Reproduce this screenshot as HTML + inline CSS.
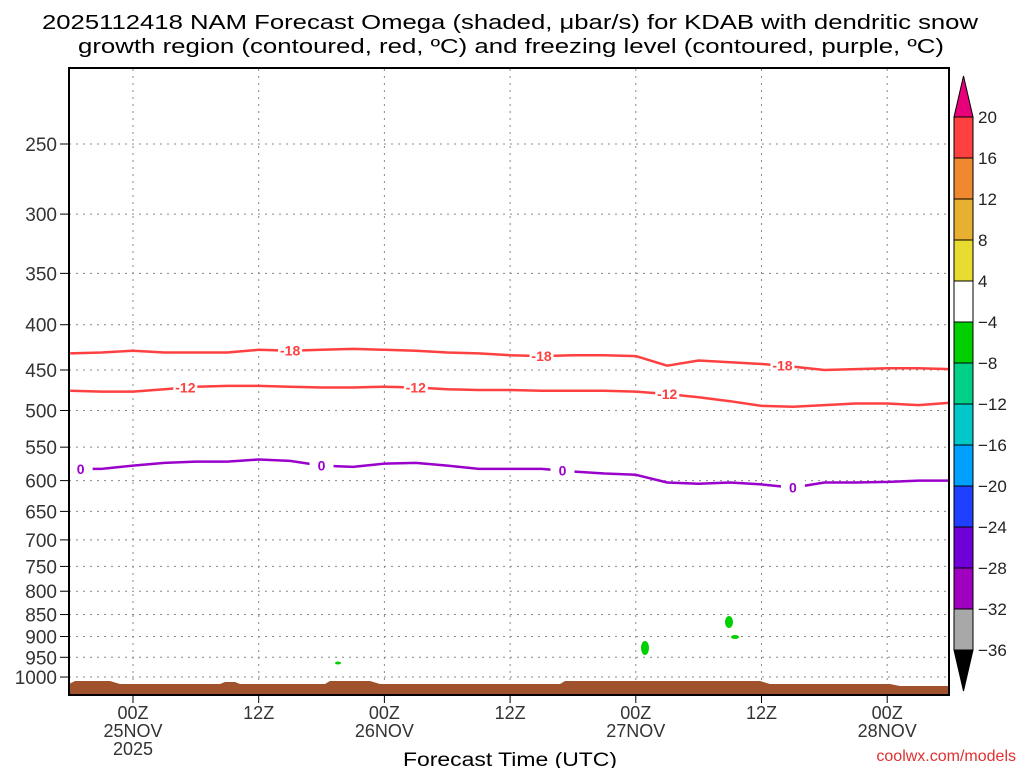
<!DOCTYPE html>
<html><head><meta charset="utf-8"><style>
body{margin:0;background:#fff;}
svg{display:block;font-family:"Liberation Sans",sans-serif;}
</style></head><body>
<svg id="chart" width="1024" height="768">
<text x="510" y="29" font-size="20" text-anchor="middle" textLength="936" lengthAdjust="spacingAndGlyphs">2025112418 NAM Forecast Omega (shaded, μbar/s) for KDAB with dendritic snow</text>
<text x="511" y="53" font-size="20" text-anchor="middle" textLength="866" lengthAdjust="spacingAndGlyphs">growth region (contoured, red, ºC) and freezing level (contoured, purple, ºC)</text>
<g id="grid"></g>
<g id="terrain"></g>
<g id="series"></g>
<rect x="69" y="68" width="880" height="627" fill="none" stroke="#000" stroke-width="2"/>
<g id="yaxis"></g>
<g id="xaxis"></g>
<text x="510" y="766" font-size="19" text-anchor="middle" textLength="214" lengthAdjust="spacingAndGlyphs">Forecast Time (UTC)</text>
<text x="1016" y="761" font-size="16" fill="#e03030" text-anchor="end">coolwx.com/models</text>
<g id="cbar"></g>
</svg>
<script>
const hours=[-6,-3,0,3,6,9,12,15,18,21,24,27,30,33,36,39,42,45,48,51,54,57,60,63,66,69,72,75,78];
const snow18=[431,430,428,430,430,430,427,428,427,426,427,428,430,431,433,434,433,433,434,445,439,441,443,446,450,449,448,448,449];
const snow12=[475,476,476,473,470,469,469,470,471,471,470,471,473,474,474,475,475,475,476,479,483,488,494,495,493,491,491,493,490];
const frz0=[582,582,577,573,571,571,568,570,577,579,574,573,577,582,582,582,586,589,591,603,605,603,606,611,603,603,602,600,600];
const pLevels=[250,300,350,400,450,500,550,600,650,700,750,800,850,900,950,1000];
const xTickHours=[0,12,24,36,48,60,72];
const xTickLabels=[["00Z","25NOV","2025"],["12Z"],["00Z","26NOV"],["12Z"],["00Z","27NOV"],["12Z"],["00Z","28NOV"]];
const lab18=[15,39,62];const lab12=[5,27,51];const lab0=[-5,18,41,63];
const cbLevels=["20","16","12","8","4","−4","−8","−12","−16","−20","−24","−28","−32","−36"];
const cbColors=["#ff4040","#f08830","#e8b030","#e8dc30","#ffffff","#00d000","#00d088","#00c8c8","#00a0ff","#2040ff","#7000d8","#a000c0","#a8a8a8"];
const NS="http://www.w3.org/2000/svg";
const X=h=>133+(h)*125.7/12;
const Y=p=>144+384.5*Math.log(p/250);
function mk(t,a,parent){const e=document.createElementNS(NS,t);for(const k in a)e.setAttribute(k,a[k]);document.getElementById(parent).appendChild(e);return e;}
pLevels.forEach(p=>{const l=mk('line',{x1:69,x2:949,y1:Y(p),y2:Y(p),stroke:'#888','stroke-dasharray':'2,5'},'grid');


const t=mk('text',{x:57,y:Y(p)+7,'font-size':19,'text-anchor':'end',fill:'#333'},'yaxis');t.textContent=p;


const k=mk('line',{x1:60,x2:69,y1:Y(p),y2:Y(p),stroke:'#000'},'yaxis');

});
xTickHours.forEach((h,i)=>{const l=mk('line',{x1:X(h),x2:X(h),y1:69,y2:695,stroke:'#888','stroke-dasharray':'2,5'},'grid');


const k=mk('line',{x1:X(h),x2:X(h),y1:695,y2:703,stroke:'#000'},'xaxis');


xTickLabels[i].forEach((s,j)=>{const t=mk('text',{x:X(h),y:719+j*18,'font-size':18,'text-anchor':'middle',fill:'#333'},'xaxis');t.textContent=s;

});});
const tr=mk('path',{d:'M69,695 L69,684 L75,681 L110,681 L120,684 L220,684 L225,682 L235,682 L240,684 L325,684 L330,681 L370,681 L380,684 L560,684 L565,681 L760,681 L770,684 L890,684 L900,686 L949,686 L949,695 Z',fill:'#a0522d'},'terrain');


[[645,648,4,7],[729,622,4,6],[735,637,4,2],[338,663,3,1.5]].forEach(b=>{const e=mk('ellipse',{cx:b[0],cy:b[1],rx:b[2],ry:b[3],fill:'#00d000'},'terrain');

});
function line(vals,color,name,labs,txt){
 const d=vals.map((p,i)=>(i?'L':'M')+X(hours[i]).toFixed(1)+','+Y(p).toFixed(1)).join(' ');
 const l=mk('path',{d:d,fill:'none',stroke:color,'stroke-width':2.5,'stroke-linejoin':'round'},'series');
 
 
 labs.forEach(h=>{let i=0;while(i<hours.length-2&&hours[i+1]<h)i++;
  const f=(h-hours[i])/(hours[i+1]-hours[i]);const p=vals[i]+(vals[i+1]-vals[i])*f;
  const x=X(h),y=Y(p);
  const r=mk('rect',{x:x-12,y:y-8,width:24,height:16,fill:'#fff'},'series');
  
  
  const t=mk('text',{x:x,y:y+5,'font-size':14,'font-weight':'bold','text-anchor':'middle',fill:color},'series');t.textContent=txt;
  
  });
}
line(snow18,'#ff4040','contour-minus18',lab18,'-18');
line(snow12,'#ff4040','contour-minus12',lab12,'-12');
line(frz0,'#9900cc','freezing-level-0',lab0,'0');
const cbX=954,cbW=19,cbTop=117,cbH=41;
cbColors.forEach((c,i)=>{const r=mk('rect',{x:cbX,y:cbTop+i*cbH,width:cbW,height:cbH,fill:c,stroke:'#000','stroke-width':1},'cbar');

});
const up=mk('polygon',{points:`${cbX},${cbTop} ${cbX+cbW},${cbTop} ${cbX+cbW/2},76`,fill:'#e8007a',stroke:'#000'},'cbar');


const cbBot=cbTop+cbColors.length*cbH;
const dn=mk('polygon',{points:`${cbX},${cbBot} ${cbX+cbW},${cbBot} ${cbX+cbW/2},691`,fill:'#000',stroke:'#000'},'cbar');


cbLevels.forEach((s,i)=>{const t=mk('text',{x:978,y:cbTop+i*cbH+6,'font-size':17,fill:'#222'},'cbar');t.textContent=s;

});
</script>
</body></html>
